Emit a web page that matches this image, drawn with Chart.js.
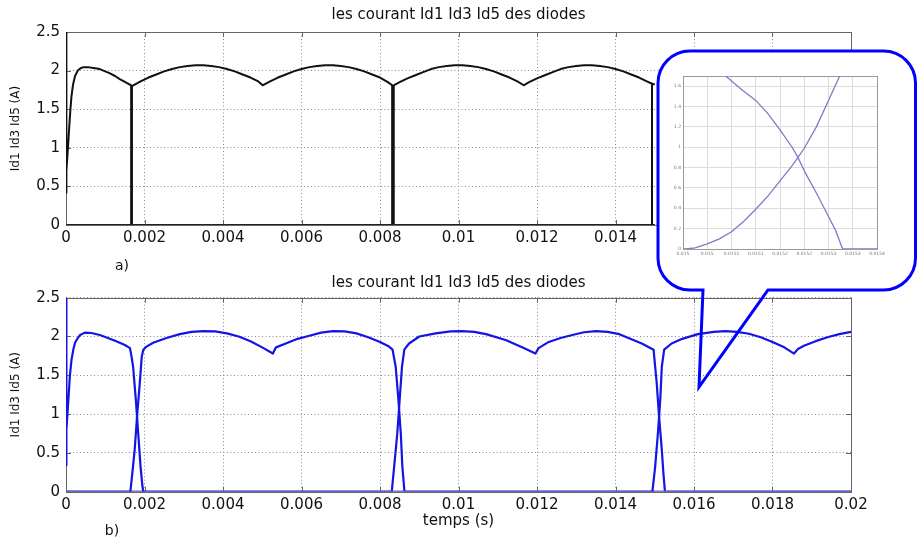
<!DOCTYPE html>
<html><head><meta charset="utf-8">
<script src="https://cdn.jsdelivr.net/npm/chart.js@4.4.1/dist/chart.umd.min.js"></script>
<style>
html,body{margin:0;padding:0;background:#fff;width:917px;height:543px;overflow:hidden;}
#wrap{position:relative;width:917px;height:543px;}
canvas{position:absolute;display:block;}
#top{left:0;top:0;}
#bot{left:0;top:272px;}
#bubble{position:absolute;left:0;top:0;pointer-events:none;}
#inset{left:662px;top:62px;}
</style></head><body>
<div id="wrap">
<canvas id="top" width="917" height="272"></canvas>
<canvas id="bot" width="917" height="271"></canvas>
<svg id="bubble" width="917" height="543" viewBox="0 0 917 543">
  <rect x="658" y="51" width="257.5" height="239" rx="32" ry="32" fill="#ffffff"/>
  <path d="M768 290 L883.5 290 A32 32 0 0 0 915.5 258 L915.5 83 A32 32 0 0 0 883.5 51 L690 51 A32 32 0 0 0 658 83 L658 258 A32 32 0 0 0 690 290 L703 290 L699 387 Z" fill="none" stroke="#0000ff" stroke-width="3" stroke-linejoin="miter"/>
</svg>
<canvas id="inset" width="230" height="206"></canvas>
</div>
<script>
// ---------------- data ----------------
const xTickLabels = ['0','0.002','0.004','0.006','0.008','0.01','0.012','0.014','0.016','0.018','0.02'];
const yTickLabels = ['0','0.5','1','1.5','2','2.5'];

// panel a) : diode currents (black), [time s, current A]
const topId1 = [[0,2.5],[0,0.42],[0.00002,0.7],[0.00005,1.0],[0.00008,1.25],[0.00011,1.48],[0.00014,1.67],[0.00018,1.82],
  [0.00023,1.93],[0.0003,2.0],[0.00037,2.03],[0.00045,2.045],[0.00055,2.045],[0.0007,2.035],[0.00086,2.02],[0.001,1.99],
  [0.00112,1.965],[0.00125,1.93],[0.00137,1.89],[0.0015,1.855],[0.00166,1.81],[0.00166,0],[0.01493,0],[0.01493,1.83],[0.015,1.82]];
const topId3 = [[0,0],[0.00168,0],[0.00168,1.80],[0.0019,1.86],[0.0021,1.91],[0.0023,1.95],[0.0025,1.99],[0.0027,2.02],[0.0029,2.045],
  [0.0031,2.06],[0.0033,2.07],[0.0035,2.07],[0.0037,2.06],[0.0039,2.045],[0.0041,2.02],[0.0043,1.99],[0.0045,1.95],[0.0047,1.91],
  [0.0049,1.86],[0.00501,1.81],[0.0052,1.86],[0.0054,1.91],[0.0056,1.95],[0.0058,1.99],[0.006,2.02],[0.0062,2.045],[0.0064,2.06],
  [0.0066,2.07],[0.0068,2.07],[0.007,2.06],[0.0072,2.045],[0.0074,2.02],[0.0076,1.99],[0.0078,1.95],[0.008,1.91],[0.0082,1.85],
  [0.00831,1.81],[0.00831,0],[0.015,0]];
const topId5 = [[0,0],[0.00835,0],[0.00835,1.81],[0.0085,1.85],[0.0087,1.90],[0.0089,1.94],[0.0091,1.98],[0.0093,2.02],[0.0095,2.045],
  [0.0097,2.06],[0.0099,2.07],[0.0101,2.07],[0.0103,2.06],[0.0105,2.045],[0.0107,2.02],[0.0109,1.99],[0.0111,1.95],[0.0113,1.91],
  [0.0115,1.86],[0.01166,1.81],[0.0118,1.85],[0.012,1.90],[0.0122,1.94],[0.0124,1.98],[0.0126,2.02],[0.0128,2.045],[0.013,2.06],
  [0.0132,2.07],[0.0134,2.07],[0.0136,2.06],[0.0138,2.045],[0.014,2.02],[0.0142,1.99],[0.0144,1.95],[0.0146,1.91],[0.0148,1.86],
  [0.01493,1.83],[0.01493,0],[0.015,0]];

// panel b) : diode currents (blue), [time s, current A]
const botId1 = [[0,2.5],[0,0.34],[0.00002,0.8],[0.00006,1.18],[0.0001,1.5],[0.00014,1.7],[0.00019,1.84],[0.00023,1.92],[0.0003,1.98],
  [0.00036,2.02],[0.00048,2.05],[0.00065,2.045],[0.00086,2.02],[0.00105,1.985],[0.00125,1.945],[0.0015,1.89],[0.00163,1.85],
  [0.00167,1.74],[0.00171,1.61],[0.00178,1.18],[0.00184,0.75],[0.0019,0.32],[0.00195,0.06],[0.00197,0],[0.01494,0],[0.01501,0.32],
  [0.01508,0.75],[0.01514,1.18],[0.01518,1.61],[0.01524,1.83],[0.01543,1.91],[0.0157,1.97],[0.0161,2.03],[0.0165,2.06],[0.0168,2.07],
  [0.0171,2.06],[0.0174,2.035],[0.0177,1.99],[0.018,1.93],[0.0183,1.86],[0.01855,1.78],[0.01865,1.84],[0.0188,1.88],[0.0191,1.94],
  [0.0194,1.99],[0.0197,2.03],[0.02,2.06]];
const botId3 = [[0,0],[0.00164,0],[0.00169,0.24],[0.00175,0.54],[0.00181,0.97],[0.00188,1.40],[0.00193,1.74],[0.00197,1.83],
  [0.00205,1.87],[0.00222,1.92],[0.00256,1.98],[0.0029,2.03],[0.0032,2.06],[0.0035,2.07],[0.0038,2.065],[0.0041,2.04],[0.0044,2.0],
  [0.0047,1.94],[0.005,1.86],[0.00527,1.78],[0.00535,1.86],[0.0056,1.91],[0.0059,1.97],[0.0062,2.01],[0.0065,2.05],[0.0068,2.07],
  [0.0071,2.065],[0.0074,2.04],[0.0077,1.99],[0.008,1.93],[0.00823,1.87],[0.00832,1.83],[0.0084,1.61],[0.00847,1.18],[0.00853,0.75],
  [0.00857,0.32],[0.00862,0.02],[0.00864,0],[0.02,0]];
const botId5 = [[0,0],[0.0083,0],[0.00836,0.32],[0.00844,0.75],[0.0085,1.18],[0.00856,1.61],[0.00862,1.83],[0.00874,1.91],[0.009,2.0],
  [0.00942,2.04],[0.0098,2.065],[0.0101,2.07],[0.0104,2.06],[0.0107,2.03],[0.0112,1.955],[0.01162,1.86],[0.01196,1.78],[0.01204,1.85],
  [0.0123,1.93],[0.0126,1.98],[0.0129,2.02],[0.0132,2.055],[0.0135,2.07],[0.0138,2.06],[0.0141,2.03],[0.01433,1.98],[0.01467,1.91],
  [0.01497,1.83],[0.01505,1.40],[0.01511,0.97],[0.01518,0.54],[0.01522,0.24],[0.01526,0],[0.02,0]];

// zoomed inset (commutation near 0.0152 s)
const insetXTickValues = [0.015,0.01505,0.0151,0.01515,0.0152,0.01525,0.0153,0.01535,0.0154];
const insetXTickLabels = ['0.015','0.015','0.0151','0.0151','0.0152','0.0152','0.0153','0.0153','0.0154'];
const insetYTickLabels = ['0','0.2','0.4','0.6','0.8','1','1.2','1.4','1.6'];
const insetFall = [[0.015088,1.70],[0.01512,1.57],[0.01515,1.46],[0.015175,1.33],[0.0152,1.17],[0.015225,1.0],[0.015237,0.9],
  [0.015252,0.75],[0.015275,0.55],[0.0153,0.32],[0.015315,0.18],[0.015329,0],[0.0154,0]];
const insetRise = [[0.015,0],[0.015005,0],[0.015025,0.01],[0.01505,0.05],[0.015075,0.1],[0.0151,0.17],[0.015125,0.27],[0.01515,0.39],
  [0.015175,0.52],[0.0152,0.67],[0.015225,0.82],[0.015237,0.9],[0.01525,0.99],[0.015275,1.2],[0.0153,1.46],[0.015323,1.70]];

// ---------------- drawing ----------------
const FONT = "'DejaVu Sans', 'Liberation Sans', sans-serif";
const toXY = arr => arr.map(([x, y]) => ({x, y}));

const boxTicks = {
  id: 'boxTicks',
  beforeDatasetsDraw(chart, args, o) {
    const {ctx, chartArea: a} = chart;
    const xs = chart.scales.x, ys = chart.scales.y;
    const L = o.len || 0;
    ctx.save();
    ctx.strokeStyle = o.color; ctx.lineWidth = 1;
    if (L > 0) {
      ctx.beginPath();
      for (const t of xs.ticks) {
        const p = Math.round(xs.getPixelForValue(t.value)) + 0.5;
        ctx.moveTo(p, a.bottom); ctx.lineTo(p, a.bottom - L);
        ctx.moveTo(p, a.top); ctx.lineTo(p, a.top + L);
      }
      for (const t of ys.ticks) {
        const p = Math.round(ys.getPixelForValue(t.value)) + 0.5;
        ctx.moveTo(a.left, p); ctx.lineTo(a.left + L, p);
        ctx.moveTo(a.right, p); ctx.lineTo(a.right - L, p);
      }
      ctx.stroke();
    }
    const l = Math.round(a.left), t = Math.round(a.top), r = Math.round(a.right), b = Math.round(a.bottom);
    ctx.strokeRect(l + 0.5, t + 0.5, r - l, b - t);
    ctx.restore();
  }
};

const panelLabel = {
  id: 'panelLabel',
  afterDraw(chart, args, o) {
    if (!o.text) return;
    const ctx = chart.ctx;
    ctx.save();
    ctx.font = o.size + 'px ' + FONT;
    ctx.fillStyle = '#111';
    ctx.textAlign = 'center'; ctx.textBaseline = 'middle';
    ctx.fillText(o.text, o.x, o.y);
    ctx.restore();
  }
};

function makeMain(id, series, color, cfg) {
  return new Chart(document.getElementById(id), {
    type: 'line',
    data: {
      datasets: series.map(s => ({
        label: s.name, data: toXY(s.data), borderColor: color, borderWidth: cfg.lineW,
        pointRadius: 0, tension: 0, fill: false, borderJoinStyle: 'round',
        segment: {borderColor: c => (c.p0.parsed.y === 0 && c.p1.parsed.y === 0) ? cfg.zeroColor : undefined}
      }))
    },
    options: {
      responsive: false, animation: false, devicePixelRatio: 1,
      layout: {padding: 0},
      plugins: {
        legend: {display: false}, tooltip: {enabled: false},
        title: {display: true, text: 'les courant Id1 Id3 Id5 des diodes', color: '#111',
          font: {family: FONT, size: 15, weight: 'normal'}, padding: cfg.titlePad},
        boxTicks: {len: 5, color: '#666'},
        panelLabel: cfg.panel
      },
      scales: {
        x: {
          type: 'linear', min: 0, max: 0.02,
          afterBuildTicks: s => { s.ticks = xTickLabels.map(l => ({value: Number(l)})); },
          ticks: {callback: (v, i) => xTickLabels[i], autoSkip: false, maxRotation: 0, minRotation: 0, padding: 4,
            color: '#111', font: {family: FONT, size: 15}},
          grid: {color: '#8a8a8a', lineWidth: 1, drawTicks: false},
          border: {display: false, dash: [1, 2.5]},
          title: cfg.xTitle ? {display: true, text: cfg.xTitle, color: '#111', font: {family: FONT, size: 15},
            padding: {top: 0, bottom: 13}} : {display: false},
          afterFit: s => { s.height = cfg.xAxisH; }
        },
        y: {
          type: 'linear', min: 0, max: 2.5,
          afterBuildTicks: s => { s.ticks = yTickLabels.map(l => ({value: Number(l)})); },
          ticks: {callback: (v, i) => yTickLabels[i], padding: 6, color: '#111', font: {family: FONT, size: 15}},
          grid: {color: '#8a8a8a', lineWidth: 1, drawTicks: false},
          border: {display: false, dash: [1, 2.5]},
          title: {display: true, text: 'Id1 Id3 Id5 (A)', color: '#111', font: {family: FONT, size: 12},
            padding: {top: 9, bottom: 0}},
          afterFit: s => { s.width = 66; }
        },
        yR: {
          type: 'linear', position: 'right', display: true, min: 0, max: 2.5,
          ticks: {display: false}, grid: {display: false, drawTicks: false}, border: {display: false},
          afterFit: s => { s.width = 66; }
        }
      }
    },
    plugins: [boxTicks, panelLabel]
  });
}

makeMain('top', [
  {name: 'Id1', data: topId1}, {name: 'Id3', data: topId3}, {name: 'Id5', data: topId5}
], '#111111', {
  lineW: 2, zeroColor: '#222222', titlePad: {top: 6, bottom: 8}, xAxisH: 47, xTitle: null,
  panel: {text: 'a)', x: 122, y: 266, size: 14}
});

makeMain('bot', [
  {name: 'Id1', data: botId1}, {name: 'Id3', data: botId3}, {name: 'Id5', data: botId5}
], '#1414e6', {
  lineW: 2.2, zeroColor: '#5f5fcf', titlePad: {top: 2, bottom: 5.7}, xAxisH: 51.3, xTitle: 'temps (s)',
  panel: {text: 'b)', x: 112, y: 259, size: 14}
});

new Chart(document.getElementById('inset'), {
  type: 'line',
  data: {
    datasets: [
      {label: 'Id5', data: toXY(insetFall), borderColor: '#7c7cc6', borderWidth: 1.3, pointRadius: 0, tension: 0, fill: false},
      {label: 'Id1', data: toXY(insetRise), borderColor: '#7c7cc6', borderWidth: 1.3, pointRadius: 0, tension: 0, fill: false}
    ]
  },
  options: {
    responsive: false, animation: false, devicePixelRatio: 1,
    layout: {padding: {top: 14, right: 15, left: 0, bottom: 0}},
    plugins: {legend: {display: false}, tooltip: {enabled: false}, title: {display: false},
      boxTicks: {len: 0, color: '#9a9a9a'}},
    scales: {
      x: {
        type: 'linear', min: 0.015, max: 0.0154,
        afterBuildTicks: s => { s.ticks = insetXTickValues.map(v => ({value: v})); },
        ticks: {callback: (v, i) => insetXTickLabels[i], autoSkip: false, maxRotation: 0, minRotation: 0, padding: 2,
          color: '#777', font: {family: FONT, size: 4.5}},
        grid: {color: '#dcdcdc', lineWidth: 1, drawTicks: false},
        border: {display: false},
        afterFit: s => { s.height = 19; }
      },
      y: {
        type: 'linear', min: 0, max: 1.7,
        afterBuildTicks: s => { s.ticks = insetYTickLabels.map(l => ({value: Number(l)})); },
        ticks: {callback: (v, i) => insetYTickLabels[i], padding: 2, color: '#777', font: {family: FONT, size: 4.5}},
        grid: {color: '#dcdcdc', lineWidth: 1, drawTicks: false},
        border: {display: false},
        afterFit: s => { s.width = 21; }
      }
    }
  },
  plugins: [boxTicks]
});
</script>
</body></html>
